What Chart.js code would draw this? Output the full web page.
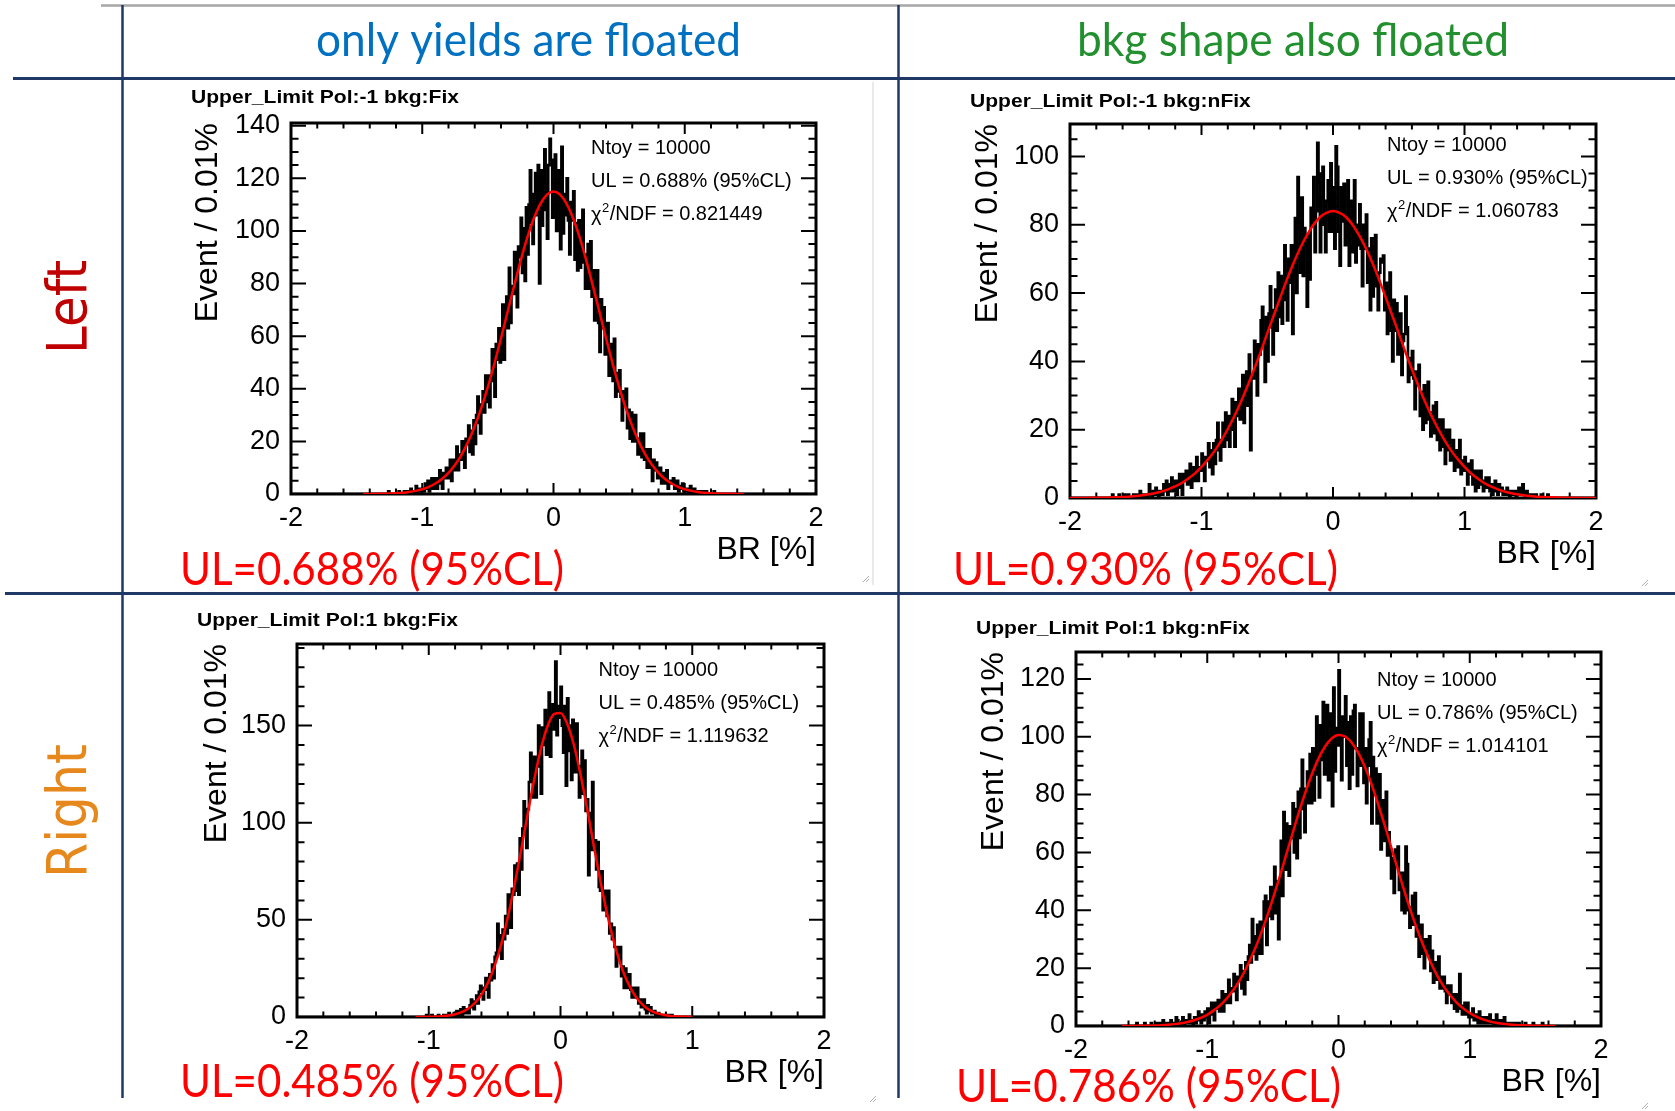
<!DOCTYPE html>
<html>
<head>
<meta charset="utf-8">
<title>Upper limit toy studies</title>
<script src="https://cdn.jsdelivr.net/npm/chart.js@4.4.1/dist/chart.umd.min.js"></script>
<style>
  html, body { margin: 0; padding: 0; background: #fff; }
  #page { position: relative; width: 1675px; height: 1111px; overflow: hidden; background: #fff; }
  #page canvas { position: absolute; }
</style>
</head>
<body>
<div id="page">
  <canvas id="bg" width="1675" height="1111" style="left:0;top:0"></canvas>
</div>
<script>
// common binning of the toy histograms (BR in %)
const binWidth = 0.01;
const fitStep = 0.05;
const xTicks = [-2, -1, 0, 1, 2];

// Pol:-1, background shape fixed
const p1Title = 'Upper_Limit Pol:-1 bkg:Fix';
const p1Ntoy = 10000;
const p1UL = '0.688';
const p1Chi2 = '0.821449';
const p1YTicks = [0, 20, 40, 60, 80, 100, 120, 140];
const p1YMax = 141;
const p1HistStart = -1.30;
const p1Counts = [
  0,0,0,0,1,0,0,0,0,0,  0,0,1,0,0,0,1,0,0,1,  0,2,1,0,1,3,0,2,1,1,
  2,1,4,2,5,1,3,6,2,5,  6,2,5,9,4,2,8,6,10,6,  7,13,5,11,13,9,18,9,15,13,
  20,15,10,21,19,26,16,24,15,28,  19,30,37,27,23,34,39,31,45,35,
  45,33,45,55,43,37,57,51,63,50,  55,72,51,67,75,63,86,65,79,76,
  92,80,71,94,90,105,84,101,81,109,  91,110,123,103,95,114,122,106,125,80,
  123,102,118,131,108,97,125,135,127,105,  110,129,100,116,123,93,132,99,114,106,
  120,104,91,111,104,115,89,103,85,104,  86,101,108,88,78,91,95,78,96,75,
  85,66,77,85,65,54,74,63,71,53,  55,65,45,54,57,43,59,37,46,39,
  47,37,28,39,34,40,25,32,21,31,  20,27,30,20,15,21,23,14,23,13,
  17,10,14,17,10,5,13,9,12,6,  7,10,4,7,8,4,9,2,5,4,
  4,6,2,3,5,1,3,2,4,1,  1,2,1,0,3,1,0,2,1,0,  1,0,0,1,0,0,1,0,0,0,
  0,0,1,0,0,0,0,0,0,0
];
const p1FitStart = -1.45;
const p1Fit = [
  0.01,0.03,0.05,0.1,0.17,0.29,0.47,0.76,1.18,1.81,2.71,3.98,5.7,8.06,11.1,15.0,19.9,25.8,32.7,40.7,
  49.6,59.2,69.2,79.1,88.7,97.4,104.7,110.3,113.8,115,113.8,110.3,104.7,97.4,88.7,79.1,69.2,59.2,49.6,
  40.7,32.7,25.8,19.9,15.0,11.1,8.06,5.7,3.98,2.71,1.81,1.18,0.76,0.47,0.29,0.17,0.1,0.05,0.03,0.01
];

// Pol:-1, background shape floated
const p2Title = 'Upper_Limit Pol:-1 bkg:nFix';
const p2Ntoy = 10000;
const p2UL = '0.930';
const p2Chi2 = '1.060783';
const p2YTicks = [0, 20, 40, 60, 80, 100];
const p2YMax = 109.5;
const p2HistStart = -1.70;
const p2Counts = [
  0,0,1,0,0,0,0,1,0,0,  0,1,0,0,1,0,0,0,1,0,  1,0,0,2,0,1,0,1,0,1,
  4,1,0,2,1,3,1,0,2,1,  1,4,2,5,1,2,4,6,2,3,  5,1,4,7,3,1,7,5,8,4,
  5,10,3,7,9,5,12,5,9,8,  13,9,5,12,11,16,9,14,7,16,  10,17,22,14,11,17,22,15,25,17,
  24,15,22,29,20,15,28,24,32,23,  25,36,22,32,37,27,42,14,36,35,
  46,38,30,45,42,52,56,45,34,53,  40,54,62,50,42,55,61,49,66,53,
  65,51,62,74,58,52,70,63,74,48,  65,82,60,94,79,66,88,65,79,74,
  56,77,64,85,80,94,72,84,104,95,  72,88,97,80,72,87,93,78,98,78,
  91,73,103,97,78,68,91,81,92,74,  77,93,68,81,87,72,93,69,80,74,
  86,73,62,80,73,83,63,73,55,76,  59,71,77,62,55,66,70,69,71,55,
  63,48,58,66,49,40,58,49,57,42,  44,54,36,46,48,59,50,34,41,36,
  43,35,26,37,33,39,24,31,20,33,  22,30,34,23,18,25,27,19,28,17,
  23,14,20,23,15,10,20,14,20,11,  11,17,8,13,14,9,17,7,11,8,
  12,8,4,10,7,11,4,8,2,8,  3,6,8,4,2,5,6,3,6,2,  4,1,3,5,2,1,4,2,3,1,
  1,2,3,1,0,2,1,1,2,0,  1,3,2,1,4,1,0,2,0,1,  0,1,0,0,1,0,0,0,1,0,
  0,0,0,1,0,0,0,0,0,0
];
const p2FitStart = -2.00;
const p2Fit = [
  0.01,0.02,0.02,0.04,0.06,0.09,0.13,0.2,0.28,0.4,0.56,0.78,1.07,1.45,1.95,2.6,3.4,4.4,5.7,7.2,
  9.1,11.3,13.8,16.8,20.2,24.0,28.2,32.8,37.7,42.8,48.2,53.5,58.8,64.0,68.8,73.1,76.8,79.9,82.2,83.5,
  84,
  83.5,82.2,79.9,76.8,73.1,68.8,64.0,58.8,53.5,48.2,42.8,37.7,32.8,28.2,24.0,20.2,16.8,13.8,11.3,9.1,
  7.2,5.7,4.4,3.4,2.6,1.95,1.45,1.07,0.78,0.56,0.4,0.28,0.2,0.13,0.09,0.06,0.04,0.02,0.02,0.01
];

// Pol:1, background shape fixed
const p3Title = 'Upper_Limit Pol:1 bkg:Fix';
const p3Ntoy = 10000;
const p3UL = '0.485';
const p3Chi2 = '1.119632';
const p3YTicks = [0, 50, 100, 150];
const p3YMax = 192;
const p3HistStart = -1.10;
const p3Counts = [
  0,0,0,0,0,0,0,0,1,0,  0,0,1,0,0,0,0,1,0,0,  0,1,0,1,0,2,1,0,1,2,
  1,3,0,2,4,1,5,2,4,3,  2,6,9,5,4,8,11,7,13,16,  15,9,14,20,14,10,22,19,27,20,
  31,33,48,42,33,30,45,40,52,43,  63,54,46,66,63,78,65,79,63,92,
  76,97,111,95,87,107,121,136,128,113,  134,113,131,150,129,115,149,140,158,135,
  145,167,134,156,161,148,183,145,160,154,  170,150,136,160,119,164,137,150,122,153,
  126,142,151,126,113,129,137,115,132,106,  112,73,86,105,121,86,91,76,90,67,
  65,75,55,62,65,52,65,43,48,40,  46,36,26,36,31,36,21,26,15,25,
  15,21,22,14,10,15,15,10,15,7,  9,5,8,9,4,2,6,3,5,2,
  2,3,1,2,2,1,0,1,1,0,  0,1,0,0,1,0,0,0,0,0
];
const p3FitStart = -1.10;
const p3Fit = [
  0.02,0.04,0.09,0.19,0.39,0.75,1.4,2.5,4.4,7.2,11.6,17.8,26.3,37.4,51.3,67.5,85.5,104.2,122.1,137.7,
  149.4,155.9,156.5,151.1,140.4,125.5,107.9,89.2,71.0,54.3,40.0,28.3,19.3,12.7,8.0,4.8,2.8,1.6,0.86,0.44,
  0.22,0.11,0.05
];

// Pol:1, background shape floated
const p4Title = 'Upper_Limit Pol:1 bkg:nFix';
const p4Ntoy = 10000;
const p4UL = '0.786';
const p4Chi2 = '1.014101';
const p4YTicks = [0, 20, 40, 60, 80, 100, 120];
const p4YMax = 129.3;
const p4HistStart = -1.60;
const p4Counts = [
  0,0,0,0,0,0,1,0,0,0,  0,0,1,0,0,0,0,1,0,0,  0,1,0,0,1,0,2,0,0,1,
  1,0,2,0,1,0,3,2,0,1,  1,3,0,1,2,1,4,1,2,0,  3,1,2,5,2,1,4,2,5,3,
  6,1,5,8,4,2,8,6,9,5,  6,12,5,10,11,8,16,8,13,12,  18,13,9,17,16,21,13,19,11,22,
  16,24,28,22,37,25,31,23,35,25,  36,25,35,43,45,28,43,38,48,37,
  41,55,39,50,30,46,64,45,74,54,  70,59,52,69,65,77,60,75,58,81,
  65,82,92,75,67,82,88,77,94,77,  96,78,93,107,87,79,104,92,112,87,
  92,111,85,100,108,76,117,88,103,97,  123,97,85,107,100,114,90,105,82,107,
  87,109,111,96,83,96,108,90,108,84,  96,77,90,99,105,70,93,80,89,70,
  72,87,61,72,78,64,81,59,67,60,  51,58,46,61,56,62,47,53,40,53,
  39,62,56,40,34,41,45,35,46,31,  38,24,31,35,25,20,30,25,29,31,
  19,26,15,20,22,16,24,13,17,13,  17,12,8,14,11,14,8,11,6,11,
  5,9,18,6,4,7,8,4,8,3,  4,3,6,2,4,3,1,5,1,3,  2,1,3,1,2,4,1,2,0,1,
  4,1,0,2,1,0,3,1,0,1,  0,1,0,0,1,0,0,1,0,0,  0,0,1,0,0,0,0,0,1,0,
  0,0,0,0,0,1,0,0,0,0
];
const p4FitStart = -1.65;
const p4Fit = [
  0.02,0.03,0.04,0.07,0.11,0.18,0.28,0.43,0.65,0.96,1.4,2.0,2.8,3.9,5.4,7.2,9.6,12.5,16.0,20.3,
  25.2,30.8,37.1,44.0,51.3,59.0,66.6,74.1,81.1,87.4,92.7,96.8,99.5,100.6,
  100.1,98.0,94.5,89.7,83.8,77.0,69.7,62.0,54.4,46.9,39.8,33.3,27.4,22.2,17.6,13.8,10.7,8.1,6.1,4.5,
  3.2,2.3,1.6,1.1,0.76,0.51,0.33,0.22,0.14,0.09,0.05,0.03,0.02
];

const ROOT_FONT = '"Liberation Sans", Arial, Helvetica, sans-serif';

// histogram outline: low bin edges, padded with empty bins out to the axis range
function histPoints(start, counts) {
  const pts = [{ x: -2, y: 0 }];
  counts.forEach((c, i) => pts.push({ x: +(start + i * binWidth).toFixed(2), y: c }));
  pts.push({ x: +(start + counts.length * binWidth).toFixed(2), y: 0 });
  pts.push({ x: 2, y: 0 });
  return pts;
}

function fitPoints(start, values) {
  return values.map((v, i) => ({ x: +(start + i * fitStep).toFixed(2), y: v }));
}

// ROOT-like frame: inward ticks on all four sides, labels, titles, stats box text
const rootFrame = {
  id: 'rootFrame',
  beforeDatasetsDraw(chart, args, o) {
    const { ctx, chartArea: a } = chart;
    const sx = chart.scales.x, sy = chart.scales.y;
    ctx.save();
    ctx.strokeStyle = '#000';
    ctx.lineWidth = 2;
    ctx.beginPath();
    for (let i = 0; i <= 20; i++) {
      const px = sx.getPixelForValue(-2 + i * 0.2);
      const len = i % 5 === 0 ? 11 : 5.5;
      ctx.moveTo(px, a.bottom); ctx.lineTo(px, a.bottom - len);
      ctx.moveTo(px, a.top); ctx.lineTo(px, a.top + len);
    }
    const major = o.yTicks[1] - o.yTicks[0];
    const nMinor = Math.floor(o.yMax / o.yMinor + 1e-9);
    for (let i = 0; i <= nMinor; i++) {
      const v = i * o.yMinor;
      const py = sy.getPixelForValue(v);
      const len = v % major === 0 ? 15 : 7.5;
      ctx.moveTo(a.left, py); ctx.lineTo(a.left + len, py);
      ctx.moveTo(a.right, py); ctx.lineTo(a.right - len, py);
    }
    ctx.stroke();
    ctx.lineWidth = 3;
    ctx.strokeRect(a.left, a.top, a.right - a.left, a.bottom - a.top);
    ctx.restore();
  },
  afterDraw(chart, args, o) {
    const { ctx, chartArea: a } = chart;
    const sx = chart.scales.x, sy = chart.scales.y;
    ctx.save();
    ctx.fillStyle = '#000';

    // tick labels
    ctx.font = '27px ' + ROOT_FONT;
    ctx.textAlign = 'right';
    ctx.textBaseline = 'middle';
    o.yTicks.forEach(v => ctx.fillText(String(v), a.left - 11, sy.getPixelForValue(v)));
    ctx.textAlign = 'center';
    ctx.textBaseline = 'alphabetic';
    xTicks.forEach(v => ctx.fillText(String(v), sx.getPixelForValue(v), a.bottom + 32));

    // axis titles
    ctx.font = '32px ' + ROOT_FONT;
    ctx.textAlign = 'right';
    ctx.fillText('BR [%]', a.right, a.bottom + 65);
    ctx.save();
    ctx.translate(a.left - o.yTitleOff, a.top);
    ctx.rotate(-Math.PI / 2);
    ctx.fillText('Event / 0.01%', 0, 0);
    ctx.restore();

    // histogram title
    ctx.save();
    ctx.font = 'bold 18px ' + ROOT_FONT;
    ctx.textAlign = 'left';
    ctx.translate(a.left - 100, a.top - o.titleDy);
    ctx.scale(1.17, 1);
    ctx.fillText(o.title, 0, 0);
    ctx.restore();

    // fit summary
    const [dx, dy, gap] = o.statsAt;
    const x0 = a.left + dx, y0 = a.top + dy;
    ctx.textAlign = 'left';
    ctx.textBaseline = 'middle';
    ctx.font = '20px ' + ROOT_FONT;
    ctx.fillText('Ntoy = ' + o.ntoy, x0, y0);
    ctx.fillText('UL = ' + o.ul + '% (95%CL)', x0, y0 + gap);
    const yc = y0 + 2 * gap;
    ctx.fillText('\u03c7', x0, yc + 1);
    const wChi = ctx.measureText('\u03c7').width;
    ctx.font = '13px ' + ROOT_FONT;
    ctx.fillText('2', x0 + wChi + 0.5, yc - 6);
    const wSup = ctx.measureText('2').width;
    ctx.font = '20px ' + ROOT_FONT;
    ctx.fillText('/NDF = ' + o.chi2, x0 + wChi + wSup + 1, yc);
    ctx.restore();
  }
};

const panels = [
  { frame: { l: 291, t: 123, r: 816, b: 494 }, title: p1Title, ntoy: p1Ntoy, ul: p1UL, chi2: p1Chi2,
    yTicks: p1YTicks, yMax: p1YMax, yMinor: 5, hist: histPoints(p1HistStart, p1Counts),
    fit: fitPoints(p1FitStart, p1Fit), statsAt: [300, 25, 33.4], titleDy: 20, yTitleOff: 74 },
  { frame: { l: 1070, t: 124, r: 1596, b: 498 }, title: p2Title, ntoy: p2Ntoy, ul: p2UL, chi2: p2Chi2,
    yTicks: p2YTicks, yMax: p2YMax, yMinor: 5, hist: histPoints(p2HistStart, p2Counts),
    fit: fitPoints(p2FitStart, p2Fit), statsAt: [317, 21.4, 33.1], titleDy: 17, yTitleOff: 73 },
  { frame: { l: 297, t: 644, r: 824, b: 1017 }, title: p3Title, ntoy: p3Ntoy, ul: p3UL, chi2: p3Chi2,
    yTicks: p3YTicks, yMax: p3YMax, yMinor: 10, hist: histPoints(p3HistStart, p3Counts),
    fit: fitPoints(p3FitStart, p3Fit), statsAt: [301.5, 26.8, 33], titleDy: 18, yTitleOff: 71 },
  { frame: { l: 1076, t: 652, r: 1601, b: 1026 }, title: p4Title, ntoy: p4Ntoy, ul: p4UL, chi2: p4Chi2,
    yTicks: p4YTicks, yMax: p4YMax, yMinor: 5, hist: histPoints(p4HistStart, p4Counts),
    fit: fitPoints(p4FitStart, p4Fit), statsAt: [301, 28, 33], titleDy: 18, yTitleOff: 73.5 }
];

const PAD = { left: 125, top: 45, right: 40, bottom: 80 };

function makePanel(p) {
  const f = p.frame;
  const cv = document.createElement('canvas');
  const w = f.r - f.l + PAD.left + PAD.right;
  const h = f.b - f.t + PAD.top + PAD.bottom;
  cv.width = w; cv.height = h;
  cv.style.width = w + 'px'; cv.style.height = h + 'px';
  cv.style.left = (f.l - PAD.left) + 'px';
  cv.style.top = (f.t - PAD.top) + 'px';
  document.getElementById('page').appendChild(cv);

  return new Chart(cv.getContext('2d'), {
    type: 'line',
    data: {
      datasets: [{
        label: 'Gaussian fit',
        data: p.fit,
        borderColor: '#ff0000',
        borderWidth: 2.5,
        pointRadius: 0,
        cubicInterpolationMode: 'monotone',
        fill: false,
        order: 0
      }, {
        label: 'toys',
        data: p.hist,
        borderColor: '#000000',
        borderWidth: 2.6,
        pointRadius: 0,
        stepped: true,
        fill: false,
        order: 1
      }]
    },
    options: {
      responsive: false,
      animation: false,
      devicePixelRatio: 1,
      layout: { padding: PAD },
      scales: {
        x: { type: 'linear', min: -2, max: 2, display: false },
        y: { type: 'linear', min: 0, max: p.yMax, display: false }
      },
      plugins: {
        legend: { display: false },
        tooltip: { enabled: false },
        rootFrame: {
          title: p.title, ntoy: p.ntoy, ul: p.ul, chi2: p.chi2,
          yTicks: p.yTicks, yMax: p.yMax, yMinor: p.yMinor,
          statsAt: p.statsAt, titleDy: p.titleDy, yTitleOff: p.yTitleOff
        }
      }
    },
    plugins: [rootFrame]
  });
}

// slide layout: table rules, column / row headers, result labels
function drawSlide() {
  const ctx = document.getElementById('bg').getContext('2d');
  const line = (x1, y1, x2, y2, color, w) => {
    ctx.strokeStyle = color; ctx.lineWidth = w;
    ctx.beginPath(); ctx.moveTo(x1, y1); ctx.lineTo(x2, y2); ctx.stroke();
  };
  const fitText = (text, x, y, width, font, color, angle) => {
    ctx.save();
    ctx.font = font; ctx.fillStyle = color;
    ctx.textAlign = 'left'; ctx.textBaseline = 'alphabetic';
    const m = ctx.measureText(text).width;
    ctx.translate(x, y);
    if (angle) ctx.rotate(angle);
    ctx.scale(width / m, 1);
    ctx.fillText(text, 0, 0);
    ctx.restore();
  };

  const navy = '#1f3864';
  line(101, 5.5, 1675, 5.5, '#a6a6a6', 2.5);
  line(122.5, 5, 122.5, 1098, navy, 2.5);
  line(898.5, 5, 898.5, 1098, navy, 2.5);
  line(13, 78.5, 1675, 78.5, navy, 3);
  line(5, 593.5, 1675, 593.5, navy, 3);

  // pasted-image edge and resize grips
  line(873, 82, 873, 585, '#d4d4d4', 1);
  [[869, 582], [1648, 586], [876, 1102], [1648, 1109]].forEach(([gx, gy]) => {
    line(gx - 6, gy, gx, gy - 6, '#b0b0b0', 1);
    line(gx - 3, gy, gx, gy - 3, '#b0b0b0', 1);
  });

  const sans = '"Lato", "Noto Sans", sans-serif';
  fitText('only yields are floated', 316, 55.5, 425, '46px ' + sans, '#0070c0');
  fitText('bkg shape also floated', 1077, 55.5, 432, '46px ' + sans, '#23902f');

  fitText('Left', 86, 354, 94, '56px "DejaVu Sans", sans-serif', '#c00000', -Math.PI / 2);
  fitText('Right', 86, 878, 134, '56px "DejaVu Sans", sans-serif', '#e6881c', -Math.PI / 2);

  const red = '#ff0000';
  fitText('UL=' + p1UL + '% (95%CL)', 180, 585, 384, '46px ' + sans, red);
  fitText('UL=' + p2UL + '% (95%CL)', 953, 585, 385, '46px ' + sans, red);
  fitText('UL=' + p3UL + '% (95%CL)', 180, 1097, 384, '46px ' + sans, red);
  fitText('UL=' + p4UL + '% (95%CL)', 956, 1102, 385, '46px ' + sans, red);
}

drawSlide();
panels.forEach(makePanel);
</script>
</body>
</html>
